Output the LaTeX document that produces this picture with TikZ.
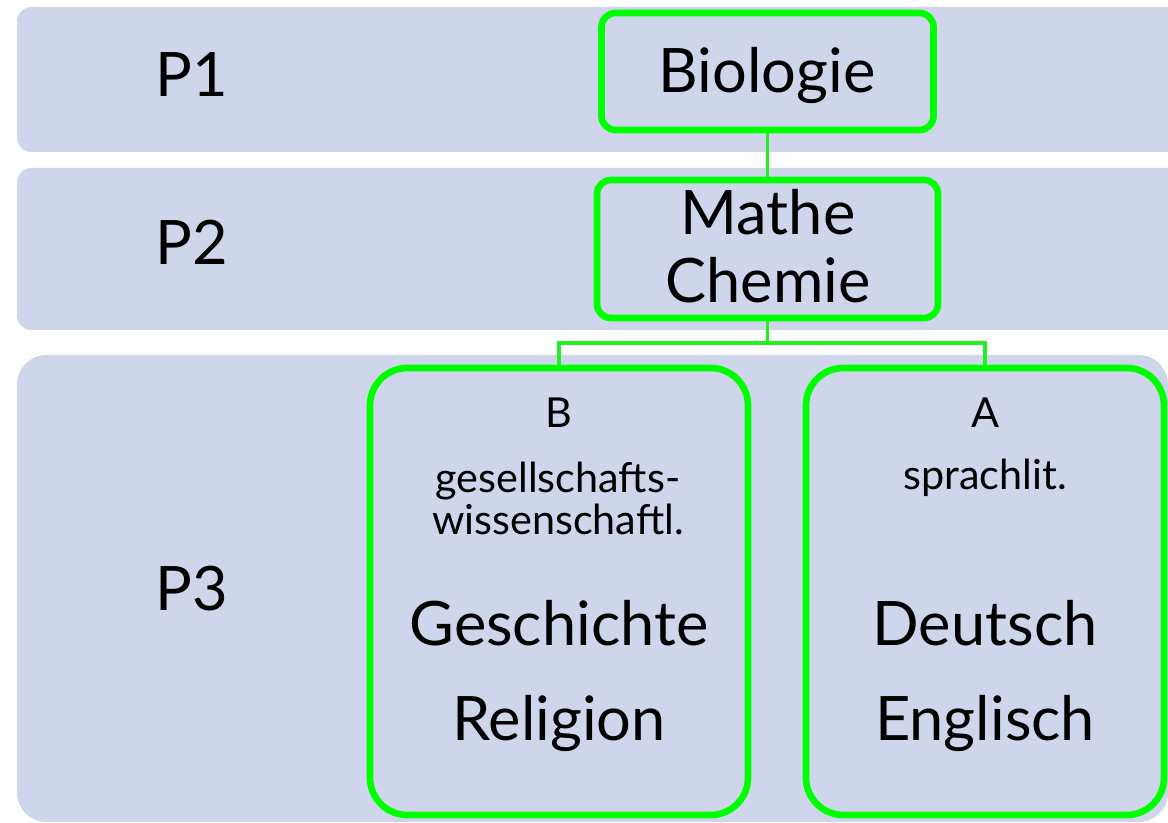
\documentclass[tikz,border=0pt]{standalone}
\usepackage{fontspec}
\setmainfont{Lato}
\definecolor{band}{HTML}{CFD5EA}
\definecolor{lime}{HTML}{00FF00}
\definecolor{conn}{HTML}{22F022}
\tikzset{
  bandbox/.style={fill=band, draw=none},
  gbox/.style={draw=lime, line width=5pt, fill=none, inner sep=0pt},
  gsmall/.style={gbox, rounded corners=10.5pt},
  gbig/.style={gbox, rounded corners=28pt},
  conline/.style={draw=conn, line width=2.4pt},
  big/.style={font=\fontsize{46}{50}\selectfont, anchor=base, inner sep=0pt},
  small/.style={font=\fontsize{31}{34}\selectfont, anchor=base, inner sep=0pt},
}
\begin{document}
\begin{tikzpicture}[x=0.75pt,y=-0.75pt]
\useasboundingbox (0,0) rectangle (1168,823);
\clip (0,0) rectangle (1168,823);
% bands
\fill[bandbox, rounded corners=11pt] (17,7) rectangle (1200,152);
\fill[bandbox, rounded corners=11pt] (17,168) rectangle (1200,330);
\fill[bandbox, rounded corners=22pt] (17,355) rectangle (1168,822);
% row labels
\node[big] (p1) at (192,97) {P1};
\node[big] (p2) at (192,265) {P2};
\node[big] (p3) at (192,610) {P3};
% green boxes
\node[gsmall, minimum width=249pt, minimum height=87.75pt] (bio) at (767.5,71.5) {};
\node[gsmall, minimum width=255.75pt, minimum height=103.5pt] (mc) at (767.5,249) {};
\node[gbig, minimum width=283.5pt, minimum height=335.25pt] (bb) at (559,591.5) {};
\node[gbig, minimum width=268.5pt, minimum height=335.25pt] (ab) at (985,591.5) {};
% connectors
\coordinate (j) at (767.5,343);
\draw[conline] (bio.south) -- (mc.north);
\draw[conline] (mc.south) -- (j);
\draw[conline] (j) -| (bb.north);
\draw[conline] (j) -| (ab.north);
% texts
\node[big] (tbio) at (767,93) {Biologie};
\node[big] (tmathe) at (768,235) {Mathe};
\node[big] (tchem) at (768,303) {Chemie};
\node[small] (tb) at (559,428) {B};
\node[small] (tges) at (558,493) {gesellschafts-};
\node[small] (twiss) at (558,535) {wissenschaftl.};
\node[big] (tgesch) at (559,645) {Geschichte};
\node[big] (trel) at (559,740) {Religion};
\node[small] (ta) at (985,428) {A};
\node[small] (tspr) at (985,490) {sprachlit.};
\node[big] (tdeu) at (985,645) {Deutsch};
\node[big] (teng) at (985,740) {Englisch};
\end{tikzpicture}
\end{document}
